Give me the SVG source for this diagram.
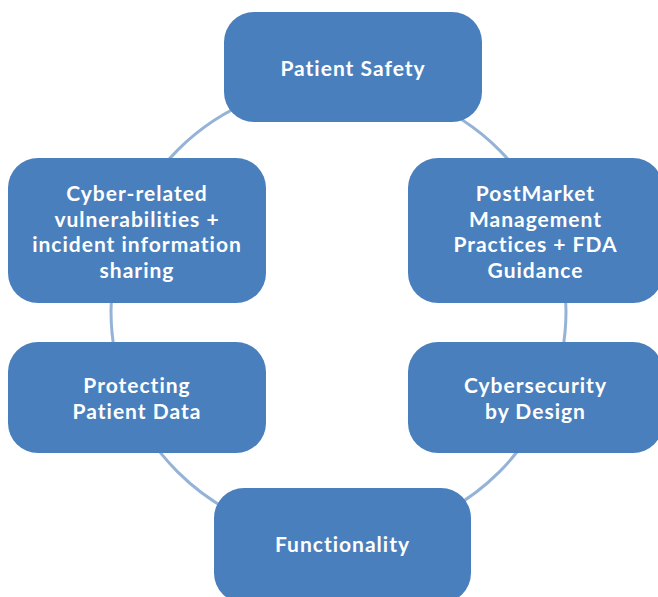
<svg xmlns="http://www.w3.org/2000/svg" width="658" height="597" viewBox="0 0 658 597">
<style>
.box{fill:#4A7FBD;}
.t{font-family:Lato,"Open Sans","Liberation Sans",sans-serif;font-weight:700;font-size:21px;fill:#FFFFFF;text-anchor:middle;letter-spacing:1px;}
.ring{fill:none;stroke:#95B3D7;stroke-width:3;}
</style>
<rect width="658" height="597" fill="#FFFFFF"/>
<g id="connectors">
<circle class="ring" cx="338.5" cy="311" r="227.5"/>
</g>
<g id="patient-safety">
<rect class="box" x="224" y="12" width="258" height="110" rx="30"/>
<text class="t" x="353" y="76">Patient Safety</text>
</g>
<g id="cyber-related">
<rect class="box" x="8" y="158" width="258" height="145" rx="30"/>
<text class="t" x="137" y="201">Cyber-related</text>
<text class="t" x="137" y="226.5">vulnerabilities +</text>
<text class="t" x="137" y="252">incident information</text>
<text class="t" x="137" y="277.5">sharing</text>
</g>
<g id="postmarket">
<rect class="box" x="408" y="158" width="255" height="145" rx="30"/>
<text class="t" x="535.5" y="201">PostMarket</text>
<text class="t" x="535.5" y="226.5">Management</text>
<text class="t" x="535.5" y="252">Practices + FDA</text>
<text class="t" x="535.5" y="277.5">Guidance</text>
</g>
<g id="protecting-patient-data">
<rect class="box" x="8" y="342" width="258" height="111" rx="30"/>
<text class="t" x="137" y="393">Protecting</text>
<text class="t" x="137" y="419">Patient Data</text>
</g>
<g id="cybersecurity-by-design">
<rect class="box" x="408" y="342" width="255" height="111" rx="30"/>
<text class="t" x="535.5" y="393">Cybersecurity</text>
<text class="t" x="535.5" y="419">by Design</text>
</g>
<g id="functionality">
<rect class="box" x="214" y="488" width="257" height="115" rx="30"/>
<text class="t" x="342.5" y="552">Functionality</text>
</g>
</svg>
